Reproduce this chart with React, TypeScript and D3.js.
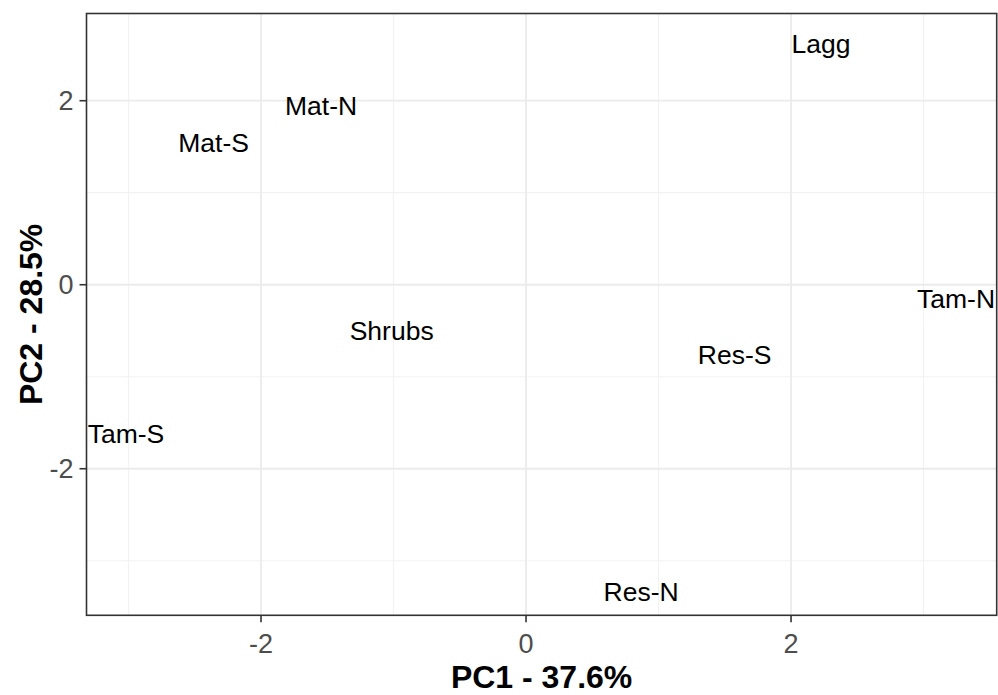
import React from "react";
import * as d3 from "d3";

const labels = ["Lagg", "Mat-N", "Mat-S", "Shrubs", "Res-S", "Tam-N", "Tam-S", "Res-N"];
const pc1 = [2.226, -1.547, -2.358, -1.014, 1.574, 3.245, -3.019, 0.868];
const pc2 = [2.627, 1.953, 1.551, -0.492, -0.753, -0.145, -1.612, -3.337];
const xTicks = [-2, 0, 2];
const yTicks = [-2, 0, 2];
const xMinorTicks = [-3, -1, 1, 3];
const yMinorTicks = [-3, -1, 1];
const xLimits = [-3.317, 3.552];
const yLimits = [-3.593, 2.948];
const xTitle = "PC1 - 37.6%";
const yTitle = "PC2 - 28.5%";

const W = 998, H = 695;
const M = { left: 86.5, right: 1.3, top: 13.5, bottom: 79.7 };

export default function App() {
  const x = d3.scaleLinear().domain(xLimits).range([M.left, W - M.right]);
  const y = d3.scaleLinear().domain(yLimits).range([H - M.bottom, M.top]);
  const [x0, x1] = x.range();
  const [y0, y1] = y.range();
  const font = "Liberation Sans, Arial, sans-serif";
  return (
    <svg width={W} height={H} style={{ position: "absolute", left: 0, top: 0, background: "#fff" }} fontFamily={font}>
      <rect x={0} y={0} width={W} height={H} fill="#fff" />
      {xMinorTicks.map(t => <line key={"xm" + t} x1={x(t)} x2={x(t)} y1={y1} y2={y0} stroke="#F2F2F2" strokeWidth={1.2} />)}
      {yMinorTicks.map(t => <line key={"ym" + t} y1={y(t)} y2={y(t)} x1={x0} x2={x1} stroke="#F2F2F2" strokeWidth={1.2} />)}
      {xTicks.map(t => <line key={"xg" + t} x1={x(t)} x2={x(t)} y1={y1} y2={y0} stroke="#EBEBEB" strokeWidth={1.8} />)}
      {yTicks.map(t => <line key={"yg" + t} y1={y(t)} y2={y(t)} x1={x0} x2={x1} stroke="#EBEBEB" strokeWidth={1.8} />)}
      {labels.map((l, i) => (
        <text key={l} x={x(pc1[i])} y={y(pc2[i])} dy="0.36em" textAnchor="middle" fontSize={26.5} fill="#000">{l}</text>
      ))}
      <rect x={x0} y={y1} width={x1 - x0} height={y0 - y1} fill="none" stroke="#333333" strokeWidth={1.6} />
      {xTicks.map(t => (
        <g key={"xt" + t}>
          <line x1={x(t)} x2={x(t)} y1={y0} y2={y0 + 7} stroke="#333333" strokeWidth={1.6} />
          <text x={x(t)} y={653} textAnchor="middle" fontSize={27} fill="#4D4D4D">{String(t)}</text>
        </g>
      ))}
      {yTicks.map(t => (
        <g key={"yt" + t}>
          <line x1={x0 - 7} x2={x0} y1={y(t)} y2={y(t)} stroke="#333333" strokeWidth={1.6} />
          <text x={x0 - 13} y={y(t)} dy="0.36em" textAnchor="end" fontSize={27} fill="#4D4D4D">{String(t)}</text>
        </g>
      ))}
      <text x={(x0 + x1) / 2} y={688} textAnchor="middle" fontSize={32} fontWeight="bold" fill="#000">{xTitle}</text>
      <text transform={`translate(42,${(y0 + y1) / 2}) rotate(-90)`} textAnchor="middle" fontSize={32} fontWeight="bold" fill="#000">{yTitle}</text>
    </svg>
  );
}
